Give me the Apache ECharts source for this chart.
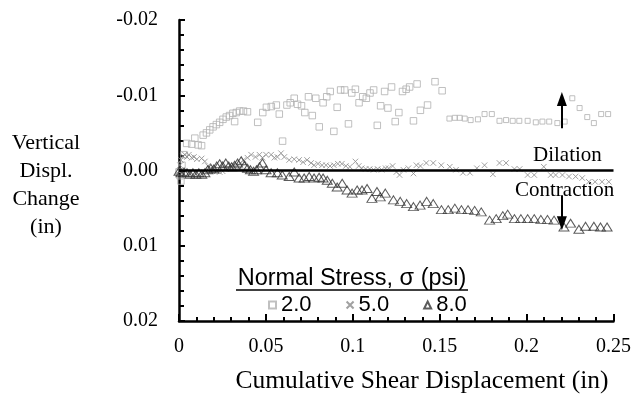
<!DOCTYPE html>
<html>
<head>
<meta charset="utf-8">
<script src="https://cdn.jsdelivr.net/npm/echarts@6/dist/echarts.min.js"></script>
<style>
  html, body { margin: 0; padding: 0; background: #fff; }
  #chart { width: 634px; height: 394px; }
</style>
</head>
<body>
<div id="chart"></div>
<script>
// [shear displacement (in), vertical displacement change (in)]
var stress2 = [
  [0, 0.0002], [0.0006, 0.0007], [0.0011, 0.0014], [0.0017, -0.0007], [0.0029, -0.0021],
  [0.0044, -0.0036], [0.0073, -0.0035], [0.0091, -0.0043], [0.011, -0.0034], [0.013, -0.0033],
  [0.0139, -0.0047], [0.0158, -0.005], [0.0177, -0.0054], [0.0196, -0.0058], [0.0215, -0.0061],
  [0.0234, -0.0064], [0.0253, -0.0068], [0.0272, -0.0071], [0.0291, -0.0073], [0.031, -0.0076],
  [0.032, -0.0065], [0.033, -0.0077], [0.0349, -0.0079], [0.0371, -0.0079], [0.0394, -0.0078],
  [0.0453, -0.0064], [0.0482, -0.0077], [0.0503, -0.0084], [0.0531, -0.0085], [0.056, -0.0087],
  [0.0577, -0.0075], [0.0596, -0.0039], [0.0621, -0.0087], [0.064, -0.009], [0.0663, -0.0096],
  [0.0682, -0.0088], [0.0705, -0.0086], [0.0724, -0.0077], [0.0745, -0.0098], [0.0767, -0.0073],
  [0.0787, -0.0096], [0.0807, -0.0058], [0.0829, -0.009], [0.085, -0.0098], [0.087, -0.0105],
  [0.0891, -0.0052], [0.091, -0.0084], [0.093, -0.0107], [0.0953, -0.0107], [0.0975, -0.0062],
  [0.0994, -0.0103], [0.1015, -0.0108], [0.1036, -0.009], [0.1057, -0.0098], [0.1078, -0.0096],
  [0.1099, -0.0103], [0.112, -0.0107], [0.1141, -0.006], [0.116, -0.0086], [0.1183, -0.0105],
  [0.1202, -0.0083], [0.1223, -0.0111], [0.1244, -0.0065], [0.1265, -0.0077], [0.1286, -0.0105],
  [0.1307, -0.0108], [0.1327, -0.0111], [0.1349, -0.0066], [0.137, -0.0115], [0.1389, -0.008],
  [0.143, -0.0087], [0.1473, -0.0118], [0.1514, -0.0106], [0.1556, -0.0069], [0.1587, -0.007],
  [0.1615, -0.007], [0.1644, -0.0069], [0.1678, -0.0067], [0.172, -0.0068], [0.1758, -0.0075],
  [0.18, -0.0075], [0.1844, -0.0066], [0.1882, -0.0067], [0.192, -0.0066], [0.1958, -0.0066],
  [0.2006, -0.0066], [0.2053, -0.0064], [0.2091, -0.0065], [0.213, -0.0065], [0.2177, -0.0063],
  [0.2219, -0.0065], [0.2263, -0.0096], [0.2305, -0.0083], [0.2349, -0.0071], [0.2387, -0.0063],
  [0.2429, -0.0075], [0.2469, -0.0075]
];

var stress5 = [
  [0, 0.0001], [0.0006, -0.0007], [0.0011, -0.0014], [0.0023, -0.0019], [0.0034, -0.0021],
  [0.0046, -0.0018], [0.0057, -0.0021], [0.0073, -0.0017], [0.0086, -0.0018], [0.0103, -0.0015],
  [0.013, -0.0016], [0.0149, -0.0012], [0.0166, -0.0006], [0.0183, -0.0003], [0.02, -0.0001],
  [0.0217, 0.0001], [0.0234, 0.0002], [0.0251, 0.0001], [0.0269, -0.0002], [0.0286, -0.0003],
  [0.0303, -0.0005], [0.032, -0.0006], [0.0337, -0.0007], [0.0354, -0.001], [0.0371, -0.0014],
  [0.0394, -0.0017], [0.0415, -0.0021], [0.044, -0.0018], [0.0463, -0.0021], [0.048, -0.0017],
  [0.0501, -0.0021], [0.053, -0.0021], [0.0549, -0.0017], [0.0566, -0.0018], [0.0587, -0.0023],
  [0.0606, -0.0018], [0.0634, -0.0014], [0.0663, -0.0015], [0.0691, -0.0014], [0.0714, -0.0011],
  [0.0737, -0.0014], [0.076, -0.001], [0.0777, -0.0007], [0.08, -0.0009], [0.0823, -0.0007],
  [0.0846, -0.0007], [0.0869, -0.0006], [0.0891, -0.0007], [0.0914, -0.0009], [0.0937, -0.0009],
  [0.096, -0.0006], [0.0983, -0.0005], [0.1015, -0.0012], [0.1034, -0.0006], [0.1051, -0.0003],
  [0.1074, -0.0002], [0.1097, -0.0002], [0.112, -0.0001], [0.1143, -0.0002], [0.1166, -0.0001],
  [0.1189, -0.0003], [0.1206, -0.0003], [0.1229, -0.0006], [0.1251, 0.0002], [0.1269, 0.0006],
  [0.1291, -0.0001], [0.132, -0.0003], [0.1349, 0.0004], [0.1366, -0.0007], [0.1389, -0.0006],
  [0.1423, -0.001], [0.1463, -0.001], [0.1509, -0.0007], [0.1558, -0.0005], [0.1594, -0.0001],
  [0.1634, 0.0003], [0.1674, 0.0003], [0.1714, -0.0003], [0.1758, -0.0007], [0.1806, 0.0005],
  [0.1844, -0.001], [0.1882, -0.001], [0.193, -0.0002], [0.196, -0.0002], [0.2006, 0.0006],
  [0.2044, 0.0006], [0.2099, -0.0005], [0.2139, 0.0006], [0.2167, 0.0006], [0.2206, 0.0006],
  [0.2244, 0.0008], [0.2282, 0.0008], [0.232, 0.001], [0.2358, 0.0015], [0.2394, 0.0015],
  [0.2434, 0.0015], [0.2473, 0.0015]
];

var stress8 = [
  [0, 0.0001], [0.0011, 0.0003], [0.0029, 0.0002], [0.0046, 0.0003], [0.0063, 0.0005],
  [0.008, 0.0003], [0.0097, 0.0005], [0.0114, 0.0003], [0.0131, 0.0005], [0.0149, 0.0003],
  [0.0166, -0.0001], [0.0183, -0.0003], [0.02, -0.0002], [0.0217, -0.0006], [0.0234, -0.0009],
  [0.0251, -0.0006], [0.0269, -0.001], [0.0286, -0.0006], [0.0303, -0.0005], [0.032, -0.0007],
  [0.0337, -0.001], [0.0358, -0.0013], [0.0377, -0.0007], [0.0394, -0.0003], [0.0411, -0.0001],
  [0.0429, 0.0001], [0.0446, -0.0001], [0.0463, -0.0005], [0.048, -0.001], [0.0501, -0.0001],
  [0.053, 0.0003], [0.0566, 0.0003], [0.0594, 0.0006], [0.0634, 0.0008], [0.0663, 0.0002],
  [0.0691, 0.001], [0.072, 0.001], [0.0749, 0.0008], [0.0777, 0.001], [0.0806, 0.0009],
  [0.0829, 0.001], [0.0853, 0.0013], [0.0882, 0.0017], [0.091, 0.0022], [0.0939, 0.0017],
  [0.0967, 0.0026], [0.0996, 0.003], [0.1025, 0.0026], [0.1053, 0.0026], [0.1082, 0.0024],
  [0.111, 0.0037], [0.1139, 0.0028], [0.1158, 0.0035], [0.1187, 0.003], [0.1234, 0.0039],
  [0.1273, 0.0041], [0.131, 0.0044], [0.1349, 0.0048], [0.1387, 0.0046], [0.1425, 0.0041],
  [0.1463, 0.0044], [0.151, 0.0052], [0.1549, 0.0052], [0.1587, 0.005], [0.1625, 0.0052],
  [0.1663, 0.0052], [0.1701, 0.0053], [0.1739, 0.0055], [0.1787, 0.0066], [0.1825, 0.0064],
  [0.1863, 0.006], [0.1891, 0.0058], [0.193, 0.0064], [0.1967, 0.0064], [0.2006, 0.0064],
  [0.2044, 0.0064], [0.2082, 0.0065], [0.212, 0.0065], [0.2158, 0.0066], [0.2215, 0.0075],
  [0.2253, 0.007], [0.2301, 0.0078], [0.2339, 0.0074], [0.2387, 0.0074], [0.2425, 0.0075],
  [0.2463, 0.0075]
];

var seriesNames = ['2.0', '5.0', '8.0'];

// arrows next to Dilation / Contraction, in data units
var arrowX = 0.2203;
var dilationArrow = [-0.0056, -0.0095];
var contractionArrow = [0.0033, 0.007];

var serif = 'Liberation Serif';
var sans = 'Liberation Sans';

var chart = echarts.init(document.getElementById('chart'));

var option = {
  backgroundColor: '#ffffff',
  animation: false,
  grid: {
    left: 179,
    right: 18,
    top: 20,
    bottom: 73
  },
  legend: {
    data: seriesNames,
    left: 263,
    top: 289,
    itemWidth: 7,
    itemHeight: 7,
    itemGap: 34,
    textStyle: {
      fontFamily: sans,
      fontSize: 22,
      color: '#000'
    }
  },
  xAxis: {
    type: 'value',
    min: 0,
    max: 0.25,
    interval: 0.05,
    axisLine: { onZero: false, lineStyle: { color: '#000', width: 2.5 } },
    axisTick: { inside: true, length: 7, lineStyle: { color: '#000', width: 2 } },
    minorTick: { show: true, splitNumber: 5, length: 4, lineStyle: { color: '#000', width: 2 } },
    splitLine: { show: false },
    axisLabel: {
      margin: 16,
      fontFamily: serif,
      fontSize: 20,
      color: '#000'
    }
  },
  yAxis: {
    type: 'value',
    inverse: true,
    min: -0.02,
    max: 0.02,
    interval: 0.01,
    axisLine: { show: true, onZero: false, lineStyle: { color: '#000', width: 2.5 } },
    axisTick: { show: true, inside: true, length: 6, lineStyle: { color: '#000', width: 2 } },
    minorTick: { show: true, splitNumber: 5, length: 5, lineStyle: { color: '#000', width: 2 } },
    splitLine: { show: false },
    axisLabel: {
      margin: 21,
      fontFamily: serif,
      fontSize: 20,
      color: '#000',
      formatter: function (v) { return v.toFixed(2); }
    }
  },
  series: [{
    name: '2.0',
    type: 'scatter',
    data: stress2,
    symbol: 'rect',
    symbolSize: function (v) { return v[0] > 0.153 ? 5 : 6.5; },
    itemStyle: { color: 'rgba(0,0,0,0)', borderColor: '#b0b0b0', borderWidth: 1 },
    z: 2
  }, {
    name: '5.0',
    type: 'scatter',
    data: stress5,
    symbol: 'path://M0,0L10,10M10,0L0,10',
    symbolSize: 5.5,
    itemStyle: { color: 'rgba(0,0,0,0)', borderColor: '#8a8a8a', borderWidth: 1 },
    z: 3
  }, {
    name: '8.0',
    type: 'scatter',
    data: stress8,
    symbol: 'triangle',
    symbolSize: [10, 8],
    itemStyle: { color: 'rgba(0,0,0,0)', borderColor: '#333333', borderWidth: 1 },
    z: 4,
    markLine: {
      silent: true,
      symbol: ['none', 'none'],
      label: { show: false },
      lineStyle: { color: '#000', width: 2.5, type: 'solid' },
      data: [{ yAxis: 0 }]
    }
  }, {
    type: 'scatter',
    data: [],
    markLine: {
      silent: true,
      symbol: ['none', 'triangle'],
      symbolSize: [10, 14],
      label: { show: false },
      lineStyle: { color: '#000', width: 2, type: 'solid' },
      itemStyle: { color: '#000' },
      data: [
        [{ coord: [arrowX, dilationArrow[0]] }, { coord: [arrowX, dilationArrow[1]] }],
        [{ coord: [arrowX, contractionArrow[0]] }, { coord: [arrowX, contractionArrow[1]] }]
      ]
    }
  }],
  graphic: [{
    type: 'text',
    x: 46,
    y: 185,
    style: {
      text: 'Vertical\nDispl.\nChange\n(in)',
      fontFamily: serif,
      fontSize: 22,
      lineHeight: 28,
      align: 'center',
      verticalAlign: 'middle',
      fill: '#000'
    }
  }, {
    type: 'text',
    x: 422,
    y: 381,
    style: {
      text: 'Cumulative Shear Displacement (in)',
      fontFamily: serif,
      fontSize: 25.5,
      align: 'center',
      verticalAlign: 'middle',
      fill: '#000'
    }
  }, {
    type: 'text',
    x: 352,
    y: 279,
    style: {
      text: 'Normal Stress, σ (psi)',
      fontFamily: sans,
      fontSize: 23.5,
      align: 'center',
      verticalAlign: 'middle',
      fill: '#000'
    }
  }, {
    type: 'line',
    shape: { x1: 236, y1: 290, x2: 468, y2: 290 },
    style: { stroke: '#000', lineWidth: 1.5 }
  }, {
    type: 'text',
    x: 533,
    y: 155,
    style: {
      text: 'Dilation',
      fontFamily: serif,
      fontSize: 21,
      verticalAlign: 'middle',
      fill: '#000'
    }
  }, {
    type: 'text',
    x: 515,
    y: 190,
    style: {
      text: 'Contraction',
      fontFamily: serif,
      fontSize: 21,
      verticalAlign: 'middle',
      fill: '#000'
    }
  }]
};

chart.setOption(option);
</script>
</body>
</html>
